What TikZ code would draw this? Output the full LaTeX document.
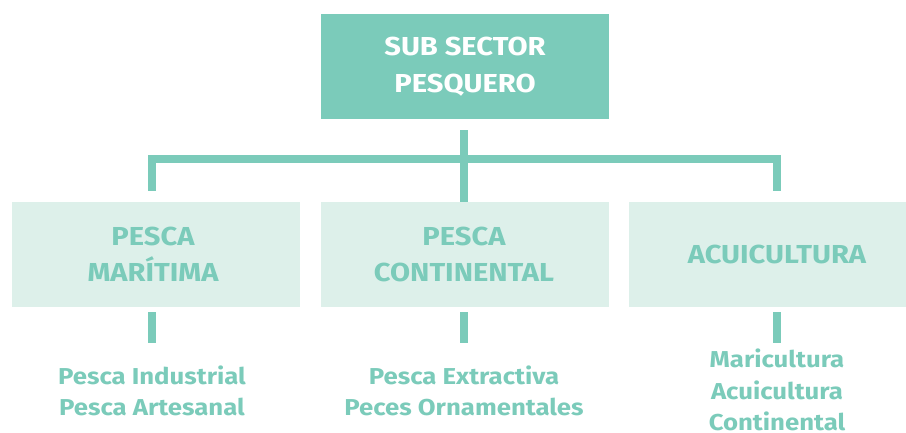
\documentclass[tikz,border=0pt]{standalone}
\usepackage{fontspec}
\setmainfont{Fira Sans}[FakeStretch=1.12]
\definecolor{teal1}{HTML}{7BCBBA}
\definecolor{teallight}{HTML}{DDF0EA}
\begin{document}
\begin{tikzpicture}[x=1pt,y=1pt,
  topbox/.style={fill=teal1, minimum width=288pt, minimum height=105pt, inner sep=0pt,
     align=center, text=white, font=\fontsize{26}{37}\selectfont\bfseries},
  lvlbox/.style={fill=teallight, minimum height=105pt, inner sep=0pt},
  lvltext/.style={align=center, text=teal1, font=\fontsize{26}{36}\selectfont\bfseries},
  itemtext/.style={align=center, text=teal1, font=\fontsize{23}{31.5}\selectfont\bfseries},
  conn/.style={draw=teal1, line width=8pt, line join=miter}]
\useasboundingbox (0,0) rectangle (906,-433);
\node[topbox] (top) at (465,-66.5) {SUB SECTOR\\PESQUERO};
\node[lvlbox, minimum width=288pt] (l) at (156,-254.5) {};
\node[lvlbox, minimum width=288pt] (m) at (465,-254.5) {};
\node[lvlbox, minimum width=277pt] (r) at (767.5,-254.5) {};
\node[lvltext] (lt) at (153,-254.5) {PESCA\\MARÍTIMA};
\node[lvltext] (mt) at (464,-254.5) {PESCA\\CONTINENTAL};
\node[lvltext] (rt) at (777,-254.5) {ACUICULTURA};
\node[itemtext] (li) at (152,-391) {Pesca Industrial\\Pesca Artesanal};
\node[itemtext] (mi) at (464,-391) {Pesca Extractiva\\Peces Ornamentales};
\node[itemtext] (ri) at (777,-390) {Maricultura\\Acuicultura\\Continental};
\coordinate (lc) at (152,-191);
\coordinate (rc) at (777,-191);
\coordinate (hbar) at (464,-159);
\draw[conn] (top.south -| hbar) ++(0,-11) -- (hbar |- m.north) -- ++(0,11);
\draw[conn] (lc) |- (hbar) -| (rc);
\draw[conn] (l.south -| li) ++(0,-5) -- ++(0,-31);
\draw[conn] (m.south -| mi) ++(0,-5) -- ++(0,-31);
\draw[conn] (r.south -| ri) ++(0,-5) -- ++(0,-31);
\end{tikzpicture}
\end{document}
